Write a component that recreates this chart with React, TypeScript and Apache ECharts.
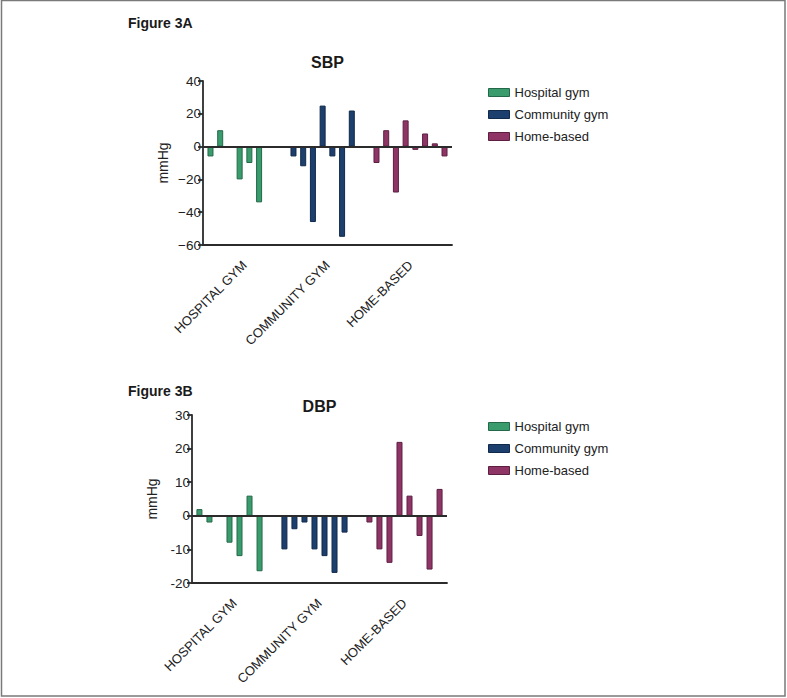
import React, { useEffect, useRef } from 'react';
import * as echarts from 'echarts';

const categories = ['HOSPITAL GYM', 'COMMUNITY GYM', 'HOME-BASED'];
const groups = ['Hospital gym', 'Community gym', 'Home-based'];

// SBP change per participant (mmHg), 8 slots per group
const sbpHospital = [-6, 10, null, -20, -10, -34, null, null];
const sbpCommunity = [-6, -12, -46, 25, -6, -55, 22, null];
const sbpHome = [-10, 10, -28, 16, -2, 8, 2, -6];

// DBP change per participant (mmHg)
const dbpHospital = [2, -2, null, -8, -12, 6, -16.5, null];
const dbpCommunity = [-10, -4, -2, -10, -12, -17, -5, null];
const dbpHome = [-2, -10, -14, 22, 6, -6, -16, 8];

const sbpAxis = { min: -60, max: 40, interval: 20 };
const dbpAxis = { min: -20, max: 30, interval: 10 };

const fills = ['#3a9b6c', '#1d3f6d', '#8f3566'];
const borders = ['#24684a', '#11294a', '#5c1f42'];
const axisColor = '#2b2b2b';
const textColor = '#222';
const font = '"Liberation Sans", Arial, Helvetica, sans-serif';

function barSeries(gridIdx: number, arrays: (number | null)[][], barGap: string) {
  const n = arrays[0].length;
  const out: any[] = [];
  for (let i = 0; i < n; i++) {
    out.push({
      type: 'bar',
      xAxisIndex: gridIdx,
      yAxisIndex: gridIdx,
      barWidth: 6,
      barGap,
      silent: true,
      data: arrays.map((arr, g) => ({
        value: arr[i] === null ? '-' : arr[i],
        itemStyle: { color: fills[g], borderColor: borders[g], borderWidth: 1 },
      })),
      markLine:
        i === 0
          ? {
              silent: true,
              symbol: ['none', 'none'],
              label: { show: false },
              lineStyle: { color: axisColor, width: 1.8, type: 'solid' },
              data: [{ yAxis: 0 }],
              z: 5,
            }
          : undefined,
    });
  }
  return out;
}

function xAxis(gridIdx: number) {
  return {
    type: 'category',
    gridIndex: gridIdx,
    data: categories,
    axisLine: { onZero: false, lineStyle: { color: axisColor, width: 1.8 } },
    axisTick: { alignWithLabel: true, length: 5, lineStyle: { color: axisColor, width: 1.8 } },
    axisLabel: { rotate: 45, interval: 0, fontSize: 13, margin: 18, color: textColor, fontFamily: font },
  };
}

function yAxis(gridIdx: number, ax: { min: number; max: number; interval: number }, unicodeMinus: boolean) {
  return {
    type: 'value',
    gridIndex: gridIdx,
    min: ax.min,
    max: ax.max,
    interval: ax.interval,
    name: 'mmHg',
    nameLocation: 'middle',
    nameGap: 33,
    nameTextStyle: { fontSize: 14, color: textColor, fontFamily: font },
    axisLine: { show: true, lineStyle: { color: axisColor, width: 1.8 } },
    axisTick: { show: true, length: 5, lineStyle: { color: axisColor, width: 1.8 } },
    splitLine: { show: false },
    axisLabel: {
      fontSize: 13.5,
      margin: 2,
      color: textColor,
      fontFamily: font,
      formatter: (v: number) => (unicodeMinus && v < 0 ? '\u2212' + Math.abs(v) : String(v)),
    },
  };
}

function legend(top: number) {
  return {
    orient: 'vertical',
    left: 488,
    top,
    padding: 0,
    itemWidth: 21,
    itemHeight: 8,
    itemGap: 9,
    icon: 'rect',
    selectedMode: false,
    textStyle: { fontSize: 13, color: textColor, fontFamily: font },
    data: groups.map((g, i) => ({
      name: g,
      itemStyle: { color: fills[i], borderColor: borders[i], borderWidth: 1 },
    })),
  };
}

function label(text: string, x: number, y: number, size: number, align: string) {
  return {
    type: 'text',
    x,
    y,
    silent: true,
    style: {
      text,
      fill: '#1a1a1a',
      fontSize: size,
      fontWeight: 'bold',
      fontFamily: font,
      align,
      verticalAlign: 'middle',
      textAlign: align,
      textVerticalAlign: 'middle',
    },
  };
}

export default function App() {
  const ref = useRef<HTMLDivElement>(null);
  useEffect(() => {
    document.body.style.margin = '0';
    if (!ref.current) return;
    const chart = echarts.init(ref.current, null, { renderer: 'svg' });
    const legendSeries = groups.map((g, i) => ({
      type: 'line',
      name: g,
      xAxisIndex: 0,
      yAxisIndex: 0,
      data: [],
      itemStyle: { color: fills[i] },
    }));
    chart.setOption({
      animation: false,
      backgroundColor: '#ffffff',
      textStyle: { fontFamily: font },
      grid: [
        { left: 203, top: 81, width: 249, height: 164 },
        { left: 192, top: 415, width: 255, height: 168 },
      ],
      xAxis: [xAxis(0), xAxis(1)],
      yAxis: [yAxis(0, sbpAxis, true), yAxis(1, dbpAxis, false)],
      legend: [legend(86), legend(420)],
      graphic: [
        {
          type: 'rect',
          silent: true,
          shape: { x: 1.5, y: 0.5, width: 783.5, height: 695.5 },
          style: { fill: 'none', stroke: '#7a7a7a', lineWidth: 1.5 },
        },
        label('Figure 3A', 128, 23, 14, 'left'),
        label('SBP', 327.5, 62, 16, 'center'),
        label('Figure 3B', 128, 391, 14, 'left'),
        label('DBP', 319.5, 406, 16, 'center'),
      ],
      series: [
        ...barSeries(0, [sbpHospital, sbpCommunity, sbpHome], '62%'),
        ...barSeries(1, [dbpHospital, dbpCommunity, dbpHome], '67%'),
        ...legendSeries,
      ],
    });
    return () => chart.dispose();
  }, []);
  return <div ref={ref} style={{ position: 'absolute', left: 0, top: 0, width: 787, height: 698 }} />;
}
